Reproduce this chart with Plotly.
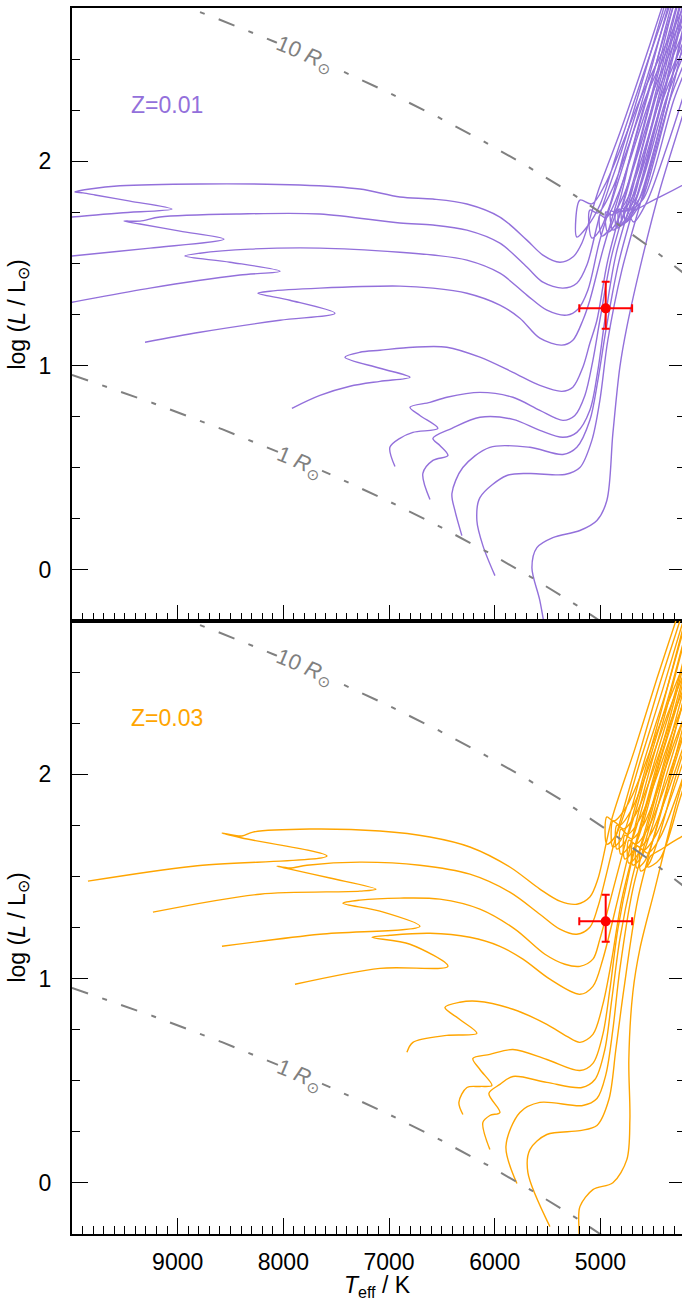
import numpy as np
import plotly.graph_objects as go
from plotly.subplots import make_subplots

# ---------------------------------------------------------------
# Evolutionary tracks, Z = 0.01  (Teff in K, log L/Lsun)
# each list runs ZAMS -> RGB, then core-He burning loop -> AGB
# ---------------------------------------------------------------
z01_m1_teff = [10161, 10000, 9546, 9054, 9451, 9782, 9896, 9972, 9830, 9546, 8789, 7843, 7276, 6897, 6585, 6263, 5951, 5696, 5544, 5384, 5261, 5175, 5024, 4816, 4627, 4419, 4324,
               4135, 4627, 4958, 5081, 5194, 5223, 5128, 5005, 4835, 4580, 4362, 4286]
z01_m1_logl = [1.717, 1.727, 1.747, 1.766, 1.805, 1.835, 1.845, 1.850, 1.864, 1.880, 1.889, 1.884, 1.864, 1.825, 1.815, 1.791, 1.727, 1.614, 1.541, 1.506, 1.531, 1.600, 1.850, 2.139, 2.423, 2.751, 2.913,
               2.913, 2.301, 1.884, 1.791, 1.810, 1.629, 1.678, 1.786, 2.055, 2.448, 2.776, 2.913]

z01_m2_teff = [10161, 10000, 9262, 8562, 8978, 9357, 9508, 9357, 9168, 8411, 7654, 6897, 6585, 6263, 5951, 5696, 5544, 5355, 5223, 5128, 5005, 4797, 4599, 4400, 4305,
               4106, 4580, 4892, 5024, 5100, 5081, 5005, 4910, 4769, 4551, 4343, 4248]
z01_m2_logl = [1.526, 1.536, 1.575, 1.619, 1.658, 1.693, 1.707, 1.707, 1.727, 1.742, 1.742, 1.698, 1.688, 1.663, 1.599, 1.482, 1.408, 1.379, 1.403, 1.492, 1.737, 2.055, 2.399, 2.751, 2.913,
               2.913, 2.301, 1.859, 1.747, 1.761, 1.624, 1.663, 1.786, 2.055, 2.423, 2.766, 2.913]

z01_m3_teff = [10161, 10000, 9262, 8411, 8032, 8505, 8931, 8789, 8316, 7654, 6897, 6585, 6263, 5951, 5696, 5506, 5317, 5213, 5119, 5005, 4769, 4561, 4362, 4267,
               4078, 4532, 4835, 4948, 5005, 4986, 4910, 4816, 4702, 4504, 4305, 4210]
z01_m3_logl = [1.296, 1.310, 1.379, 1.443, 1.462, 1.506, 1.536, 1.550, 1.570, 1.575, 1.555, 1.541, 1.516, 1.452, 1.345, 1.271, 1.247, 1.276, 1.369, 1.614, 2.006, 2.374, 2.751, 2.913,
               2.913, 2.301, 1.835, 1.722, 1.737, 1.634, 1.673, 1.810, 2.055, 2.423, 2.766, 2.913]

z01_m4_teff = [9309, 8789, 8032, 7512, 7938, 8240, 8127, 7654, 6897, 6585, 6263, 5951, 5762, 5573, 5365, 5261, 5166, 5100, 4977, 4740, 4532, 4334, 4239,
               4050, 4485, 4778, 4892, 4948, 4930, 4854, 4759, 4646, 4457, 4277, 4182]
z01_m4_logl = [1.114, 1.163, 1.222, 1.256, 1.320, 1.354, 1.364, 1.379, 1.389, 1.379, 1.354, 1.296, 1.232, 1.134, 1.100, 1.124, 1.222, 1.320, 1.565, 1.982, 2.359, 2.751, 2.913,
               2.913, 2.301, 1.835, 1.737, 1.752, 1.653, 1.693, 1.835, 2.055, 2.423, 2.766, 2.913]

z01_m5_teff = [7919, 7654, 7370, 7086, 6802, 7086, 7417, 7276, 7086, 6774, 6453, 6140, 5828, 5573, 5365, 5261, 5166, 5100, 5033, 4930, 4702, 4504, 4315, 4220,
               4021, 4438, 4740, 4844, 4901, 4882, 4807, 4712, 4608, 4419, 4248, 4154]
z01_m5_logl = [0.791, 0.854, 0.899, 0.923, 0.943, 0.987, 1.041, 1.065, 1.075, 1.090, 1.090, 1.041, 0.967, 0.903, 0.874, 0.894, 0.992, 1.109, 1.222, 1.516, 1.957, 2.350, 2.751, 2.913,
               2.913, 2.301, 1.820, 1.747, 1.757, 1.663, 1.703, 1.835, 2.055, 2.423, 2.766, 2.913]

z01_m6_teff = [6944, 6992, 6897, 6774, 6538, 6708, 6802, 6613, 6453, 6140, 5828, 5573, 5355, 5242, 5147, 5071, 5005, 4892, 4665, 4475, 4277, 4182,
               3993, 4409, 4702, 4807, 4854, 4844, 4769, 4674, 4570, 4381, 4220, 4125]
z01_m6_logl = [0.506, 0.600, 0.644, 0.673, 0.693, 0.756, 0.796, 0.820, 0.845, 0.869, 0.845, 0.781, 0.732, 0.756, 0.854, 1.026, 1.222, 1.541, 1.948, 2.340, 2.751, 2.913,
               2.913, 2.301, 1.820, 1.752, 1.761, 1.673, 1.712, 1.835, 2.055, 2.423, 2.766, 2.913]

z01_m7_teff = [6613, 6680, 6585, 6443, 6519, 6585, 6405, 6140, 5828, 5573, 5355, 5223, 5100, 5024, 4958, 4854, 4627, 4438, 4248, 4154,
               3965, 4381, 4665, 4778, 4826, 4816, 4740, 4646, 4532, 4352, 4192, 4097]
z01_m7_logl = [0.345, 0.472, 0.536, 0.560, 0.609, 0.644, 0.693, 0.747, 0.737, 0.683, 0.649, 0.673, 0.781, 0.977, 1.222, 1.541, 1.948, 2.340, 2.751, 2.913,
               2.913, 2.301, 1.820, 1.752, 1.766, 1.683, 1.722, 1.835, 2.055, 2.423, 2.766, 2.913]

z01_m8_teff = [6311, 6377, 6405, 6302, 6046, 5667, 5355, 5223, 5100, 5024, 4948, 4826, 4599, 4400, 4210, 4116,
               3927, 4343, 4627, 4750, 4797, 4788, 4712, 4617, 4494, 4315, 4154, 4059]
z01_m8_logl = [0.168, 0.291, 0.374, 0.501, 0.600, 0.600, 0.565, 0.600, 0.732, 0.928, 1.173, 1.506, 1.933, 2.340, 2.751, 2.913,
               2.913, 2.301, 1.820, 1.757, 1.771, 1.693, 1.732, 1.835, 2.055, 2.423, 2.766, 2.913]

z01_m9_teff = [5998, 6112, 6169, 6140, 5885, 5667, 5336, 5194, 5081, 5005, 4930, 4797, 4561, 4362, 4173, 4078,
               3889, 4305, 4589, 4721, 4769, 4759, 4684, 4589, 4466, 4286, 4125, 4031]
z01_m9_logl = [-0.028, 0.119, 0.242, 0.354, 0.462, 0.472, 0.467, 0.501, 0.634, 0.830, 1.124, 1.467, 1.908, 2.325, 2.751, 2.913,
               2.913, 2.301, 1.820, 1.761, 1.776, 1.703, 1.742, 1.835, 2.055, 2.423, 2.766, 2.913]

z01_m10_teff = [5507, 5573, 5648, 5601, 5450, 5194, 5033, 4939, 4882, 4816, 4750, 4608, 4438, 4229, 4012, 3870,
                3823, 4580, 4721, 4684, 4561, 4381, 4154, 3965]
z01_m10_logl = [-0.347, -0.150, 0.011, 0.109, 0.158, 0.193, 0.242, 0.340, 0.668, 0.992, 1.188, 1.516, 1.859, 2.212, 2.570, 2.913,
                2.055, 1.786, 1.742, 1.703, 1.801, 2.055, 2.423, 2.766]

# ---------------------------------------------------------------
# Evolutionary tracks, Z = 0.03
# ---------------------------------------------------------------
z03_m1_teff = [9849, 8855, 7588, 8392, 8581, 8392, 8288, 7749, 7086, 6613, 6235, 5857, 5573, 5384, 5223, 5100, 5024, 4892, 4674, 4466, 4286, 4192,
               4002, 4419, 4740, 4873, 4939, 4939, 4863, 4759, 4617, 4409, 4210, 4116]
z03_m1_logl = [1.477, 1.550, 1.600, 1.688, 1.712, 1.698, 1.717, 1.732, 1.722, 1.693, 1.644, 1.546, 1.438, 1.379, 1.364, 1.399, 1.487, 1.781, 2.124, 2.467, 2.751, 2.908,
               2.908, 2.271, 1.854, 1.771, 1.791, 1.658, 1.693, 1.830, 2.075, 2.418, 2.761, 2.908]

z03_m2_teff = [9234, 8222, 7276, 7124, 7559, 7938, 8061, 7938, 7777, 7276, 6708, 6235, 5857, 5573, 5384, 5223, 5100, 5024, 4873, 4646, 4438, 4248, 4154,
               3965, 4381, 4702, 4816, 4882, 4882, 4807, 4712, 4580, 4371, 4182, 4088]
z03_m2_logl = [1.325, 1.413, 1.428, 1.438, 1.492, 1.536, 1.550, 1.541, 1.555, 1.570, 1.555, 1.511, 1.423, 1.315, 1.242, 1.217, 1.251, 1.350, 1.658, 2.075, 2.443, 2.751, 2.908,
               2.908, 2.271, 1.830, 1.751, 1.771, 1.644, 1.678, 1.820, 2.075, 2.418, 2.761, 2.908]

z03_m3_teff = [8581, 7654, 6708, 7086, 7436, 7276, 6897, 6519, 6140, 5809, 5525, 5336, 5194, 5071, 5005, 4854, 4627, 4419, 4220, 4125,
               3936, 4362, 4665, 4778, 4844, 4844, 4769, 4674, 4532, 4334, 4154, 4059]
z03_m3_logl = [1.158, 1.217, 1.256, 1.330, 1.369, 1.384, 1.394, 1.389, 1.340, 1.242, 1.119, 1.070, 1.060, 1.095, 1.193, 1.487, 1.928, 2.320, 2.712, 2.884,
               2.884, 2.222, 1.805, 1.732, 1.751, 1.634, 1.668, 1.805, 2.075, 2.418, 2.761, 2.908]

z03_m4_teff = [7890, 7086, 6443, 6802, 7162, 6992, 6613, 6235, 5951, 5733, 5478, 5194, 5071, 4977, 4835, 4608, 4400, 4201, 4106,
               3917, 4343, 4627, 4740, 4807, 4807, 4731, 4636, 4494, 4296, 4125, 4031]
z03_m4_logl = [0.972, 1.050, 1.060, 1.168, 1.202, 1.212, 1.222, 1.202, 1.158, 1.095, 0.997, 0.923, 0.962, 1.095, 1.389, 1.879, 2.271, 2.663, 2.859,
               2.859, 2.173, 1.781, 1.707, 1.732, 1.609, 1.644, 1.781, 2.050, 2.394, 2.737, 2.884]

z03_m5_teff = [6831, 6774, 6453, 6169, 6330, 6471, 6330, 6169, 5828, 5507, 5317, 5194, 5071, 4977, 4892, 4797, 4580, 4371, 4173, 4078,
               3889, 4305, 4589, 4702, 4769, 4769, 4693, 4598, 4456, 4258, 4097, 4002]
z03_m5_logl = [0.639, 0.688, 0.722, 0.732, 0.800, 0.859, 0.884, 0.889, 0.850, 0.776, 0.717, 0.688, 0.727, 0.874, 1.095, 1.389, 1.830, 2.222, 2.614, 2.810,
               2.810, 2.149, 1.756, 1.683, 1.702, 1.585, 1.624, 1.756, 2.026, 2.369, 2.712, 2.859]

z03_m6_teff = [6301, 6339, 6263, 6140, 6027, 6140, 6207, 6046, 5828, 5507, 5194, 5071, 4977, 4910, 4835, 4721, 4532, 4324, 4135, 4040,
               3851, 4267, 4551, 4665, 4731, 4731, 4655, 4561, 4419, 4220, 4059, 3965]
z03_m6_logl = [0.335, 0.394, 0.467, 0.472, 0.477, 0.555, 0.609, 0.629, 0.653, 0.604, 0.550, 0.585, 0.727, 0.948, 1.242, 1.536, 1.903, 2.271, 2.639, 2.810,
               2.810, 2.124, 1.732, 1.658, 1.678, 1.565, 1.600, 1.732, 2.001, 2.345, 2.688, 2.859]

z03_m7_teff = [6046, 6112, 6046, 5951, 6055, 5951, 5828, 5507, 5175, 5052, 4958, 4892, 4816, 4702, 4494, 4286, 4097, 4002,
               3813, 4229, 4513, 4627, 4693, 4693, 4617, 4523, 4381, 4182, 4021, 3927]
z03_m7_logl = [0.163, 0.296, 0.330, 0.345, 0.438, 0.482, 0.521, 0.492, 0.467, 0.506, 0.653, 0.899, 1.193, 1.487, 1.879, 2.271, 2.639, 2.810,
               2.810, 2.114, 1.717, 1.644, 1.663, 1.555, 1.590, 1.722, 1.987, 2.330, 2.673, 2.835]

z03_m8_teff = [5790, 5894, 5762, 5573, 5166, 5033, 4948, 4882, 4816, 4693, 4475, 4267, 4078, 3983,
               3794, 4192, 4475, 4589, 4655, 4655, 4580, 4485, 4343, 4144, 3983]
z03_m8_logl = [-0.003, 0.178, 0.345, 0.394, 0.379, 0.413, 0.531, 0.751, 1.046, 1.438, 1.854, 2.261, 2.639, 2.810,
               2.810, 2.100, 1.702, 1.629, 1.649, 1.541, 1.575, 1.707, 1.972, 2.315, 2.658]

z03_m9_teff = [5478, 5686, 5667, 5507, 5194, 5033, 4920, 4854, 4778, 4646, 4428, 4210, 4021, 3927,
               3738, 4154, 4438, 4551, 4617, 4617, 4542, 4447, 4305, 4106, 3946]
z03_m9_logl = [-0.214, 0.050, 0.163, 0.237, 0.256, 0.281, 0.408, 0.653, 0.948, 1.389, 1.820, 2.247, 2.639, 2.810,
               2.810, 2.085, 1.688, 1.614, 1.634, 1.526, 1.560, 1.693, 1.957, 2.300, 2.644]

z03_m10_teff = [5194, 5204, 5194, 5071, 4882, 4750, 4721, 4731, 4693, 4627, 4485, 4296, 4106, 3917,
                3823, 4390, 4532, 4551, 4438, 4248, 4059]
z03_m10_logl = [-0.302, -0.214, -0.116, -0.033, 0.001, 0.114, 0.310, 0.604, 0.933, 1.144, 1.438, 1.830, 2.173, 2.516,
                1.879, 1.644, 1.595, 1.546, 1.585, 1.879, 2.198]

# constant-radius lines (R / Rsun) and their label positions
radii_rsun = [1, 10]
radius_label_teff = [7843, 7796]
radius_label_logl = [0.525, 2.522]
T_SUN = 5772.0

# observed star
star_teff = [4950]
star_teff_err = [250]
star_logl = [1.28]
star_logl_err_plus = [0.13]
star_logl_err_minus = [0.10]

# metallicity labels
z_labels = ["Z=0.01", "Z=0.03"]
z_label_teff = 9101
z_label_logl = 2.276

teff_ticks = [9000, 8000, 7000, 6000, 5000]
logl_ticks = [0, 1, 2]
TEFF_RANGE = [10000, 4228]
LOGL_RANGE = [-0.25, 2.75]

PURPLE = "#9370DB"
ORANGE = "#FFA500"
GRAY = "#808080"
FONT = "Liberation Sans, Arial, sans-serif"

z01_tracks = [(z01_m1_teff, z01_m1_logl), (z01_m2_teff, z01_m2_logl), (z01_m3_teff, z01_m3_logl),
              (z01_m4_teff, z01_m4_logl), (z01_m5_teff, z01_m5_logl), (z01_m6_teff, z01_m6_logl),
              (z01_m7_teff, z01_m7_logl), (z01_m8_teff, z01_m8_logl), (z01_m9_teff, z01_m9_logl),
              (z01_m10_teff, z01_m10_logl)]
z03_tracks = [(z03_m1_teff, z03_m1_logl), (z03_m2_teff, z03_m2_logl), (z03_m3_teff, z03_m3_logl),
              (z03_m4_teff, z03_m4_logl), (z03_m5_teff, z03_m5_logl), (z03_m6_teff, z03_m6_logl),
              (z03_m7_teff, z03_m7_logl), (z03_m8_teff, z03_m8_logl), (z03_m9_teff, z03_m9_logl),
              (z03_m10_teff, z03_m10_logl)]

fig = make_subplots(rows=2, cols=1, vertical_spacing=0)

panels = [
    dict(row=1, tracks=z01_tracks, color=PURPLE, label=z_labels[0], xref="x", yref="y", yover="y3"),
    dict(row=2, tracks=z03_tracks, color=ORANGE, label=z_labels[1], xref="x2", yref="y2", yover="y4"),
]

t_grid = np.linspace(TEFF_RANGE[0], 4100, 400)

for p in panels:
    for teff, logl in p["tracks"]:
        fig.add_trace(go.Scatter(x=teff, y=logl, mode="lines",
                                 line=dict(color=p["color"], width=1.4, shape="spline", smoothing=0.9),
                                 hoverinfo="skip", showlegend=False),
                      row=p["row"], col=1)

    # radius lines: log L = 2 log R + 4 log(Teff / Teff_sun)
    for r in radii_rsun:
        logl_r = 2 * np.log10(r) + 4 * np.log10(t_grid / T_SUN)
        fig.add_trace(go.Scatter(x=t_grid, y=logl_r, mode="lines",
                                 line=dict(color=GRAY, width=2, dash="17px,15px,5px,15px"),
                                 xaxis=p["xref"], yaxis=p["yover"],
                                 hoverinfo="skip", showlegend=False))

    fig.add_trace(go.Scatter(
        x=star_teff, y=star_logl, mode="markers",
        marker=dict(color="red", size=10),
        error_x=dict(type="data", array=star_teff_err, color="red", thickness=2, width=4),
        error_y=dict(type="data", array=star_logl_err_plus, arrayminus=star_logl_err_minus,
                     color="red", thickness=2, width=4),
        xaxis=p["xref"], yaxis=p["yover"], hoverinfo="skip", showlegend=False))

    fig.add_annotation(x=z_label_teff, y=z_label_logl, xref=p["xref"], yref=p["yref"],
                       text=p["label"], showarrow=False,
                       font=dict(family=FONT, size=23, color=p["color"]))
    for r, lt, ll in zip(radii_rsun, radius_label_teff, radius_label_logl):
        fig.add_annotation(x=lt, y=ll, xref=p["xref"], yref=p["yref"],
                           text=f"{r} <i>R</i><sub>⊙</sub>", showarrow=False,
                           textangle=23, bgcolor="white", borderpad=0,
                           font=dict(family=FONT, size=22, color=GRAY))

xcommon = dict(range=TEFF_RANGE, tickmode="array", tickvals=teff_ticks,
               ticktext=[str(v) for v in teff_ticks],
               ticks="inside", ticklen=16, tickwidth=1, tickcolor="black",
               minor=dict(tickmode="linear", tick0=0, dtick=100, ticks="inside",
                          ticklen=8, tickwidth=1, tickcolor="black"),
               showline=True, linewidth=2, linecolor="black", mirror=True,
               showgrid=False, zeroline=False,
               tickfont=dict(family=FONT, size=23, color="black"))
ycommon = dict(range=LOGL_RANGE, tickmode="array", tickvals=logl_ticks,
               ticktext=[str(v) for v in logl_ticks],
               ticks="inside", ticklen=16, tickwidth=1, tickcolor="black",
               minor=dict(tickmode="linear", tick0=0, dtick=0.25, ticks="inside",
                          ticklen=8, tickwidth=1, tickcolor="black"),
               showline=True, linewidth=2, linecolor="black", mirror=False,
               showgrid=False, zeroline=False, ticklabelstandoff=14,
               tickfont=dict(family=FONT, size=23, color="black"),
               title=dict(text="log (<i>L</i> / L<sub>⊙</sub>)", standoff=7,
                          font=dict(family=FONT, size=23, color="black")))
yright = dict(range=LOGL_RANGE, side="right", tickmode="array", tickvals=logl_ticks,
              ticks="inside", ticklen=13, tickwidth=1, tickcolor="black",
              minor=dict(tickmode="linear", tick0=0, dtick=0.25, ticks="inside",
                         ticklen=5, tickwidth=1, tickcolor="black"),
              showticklabels=False, showline=False, showgrid=False, zeroline=False)

fig.update_layout(
    width=682, height=1301,
    margin=dict(l=72, r=0, t=8, b=67),
    paper_bgcolor="white", plot_bgcolor="white",
    font=dict(family=FONT, size=23, color="black"),
    showlegend=False,
    xaxis=dict(**xcommon, showticklabels=False),
    xaxis2=dict(**xcommon, showticklabels=True, ticklabelstandoff=6,
                title=dict(text="<i>T</i><sub>eff</sub> / K", standoff=6,
                           font=dict(family=FONT, size=23, color="black"))),
    yaxis=dict(**ycommon),
    yaxis2=dict(**ycommon),
    yaxis3=dict(**yright, overlaying="y", anchor="x"),
    yaxis4=dict(**yright, overlaying="y2", anchor="x2"),
)

fig.write_html("out.html")
